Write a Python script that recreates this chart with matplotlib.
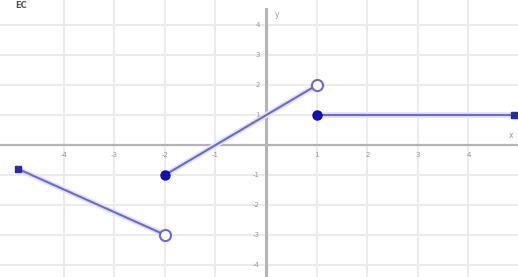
import matplotlib
matplotlib.use("Agg")
import matplotlib.pyplot as plt

# Data
left_x = [-4.9, -2.0]
left_y = [-0.8, -3.0]
mid_x = [-2.0, 1.0]
mid_y = [-1.0, 2.0]
right_x = [1.0, 4.9]
right_y = [1.0, 1.0]
closed_x = [-2.0, 1.0]
closed_y = [-1.0, 1.0]
open_x = [-2.0, 1.0]
open_y = [-3.0, 2.0]
end_x = [-4.9, 4.9]
end_y = [-0.8, 1.0]

x_ticks = [-4, -3, -2, -1, 1, 2, 3, 4]
y_ticks = [-4, -3, -2, -1, 1, 2, 3, 4]

fig = plt.figure(figsize=(5.18, 2.77), dpi=100)
ax = fig.add_axes([0, 0, 1, 1])
ax.set_xlim(-5.26, 4.98)
ax.set_ylim(-4.41, 4.85)

# grid
for v in x_ticks:
    ax.axvline(v, color="#ebebeb", lw=1.5, zorder=0)
for v in y_ticks:
    ax.axhline(v, color="#ebebeb", lw=1.5, zorder=0)

# axes
ax.axhline(0, color="#b4b4b4", lw=1.6, zorder=1)
ax.plot([0, 0], [-4.41, 4.55], color="#b4b4b4", lw=2.2, zorder=1)

for s in ax.spines.values():
    s.set_visible(False)
ax.set_xticks([])
ax.set_yticks([])

for v in x_ticks:
    ax.text(v, -0.33, str(v), ha="center", va="center", fontsize=5, color="#999999")
for v in y_ticks:
    ax.text(-0.12, v, str(v), ha="right", va="center", fontsize=5, color="#999999")
ax.text(4.85, 0.32, "x", ha="center", va="center", fontsize=5.5, color="#999999")
ax.text(0.22, 4.38, "y", ha="center", va="center", fontsize=5.5, color="#999999")
fig.text(0.03, 0.998, "EC", ha="left", va="top", fontsize=6, color="#555555",
         fontweight="bold")

line_kw = dict(color="#6a6ad0", lw=1.5, zorder=3, solid_capstyle="round")
halo_kw = dict(color="#e2e2ff", lw=4, zorder=2, solid_capstyle="round")
for xs, ys in [(left_x, left_y), (mid_x, mid_y), (right_x, right_y)]:
    ax.plot(xs, ys, **halo_kw)
    ax.plot(xs, ys, **line_kw)

ax.plot(end_x, end_y, ls="none", marker="s", ms=4, color="#2a2aa8", zorder=4)
ax.plot(closed_x, closed_y, ls="none", marker="o", ms=6.5, color="#1010c0",
        markeredgecolor="#1010a0", zorder=5)
ax.plot(open_x, open_y, ls="none", marker="o", ms=8, markerfacecolor="white",
        markeredgecolor="#6a6ad0", markeredgewidth=1.5, zorder=5)

fig.savefig("out.png", dpi=100)
